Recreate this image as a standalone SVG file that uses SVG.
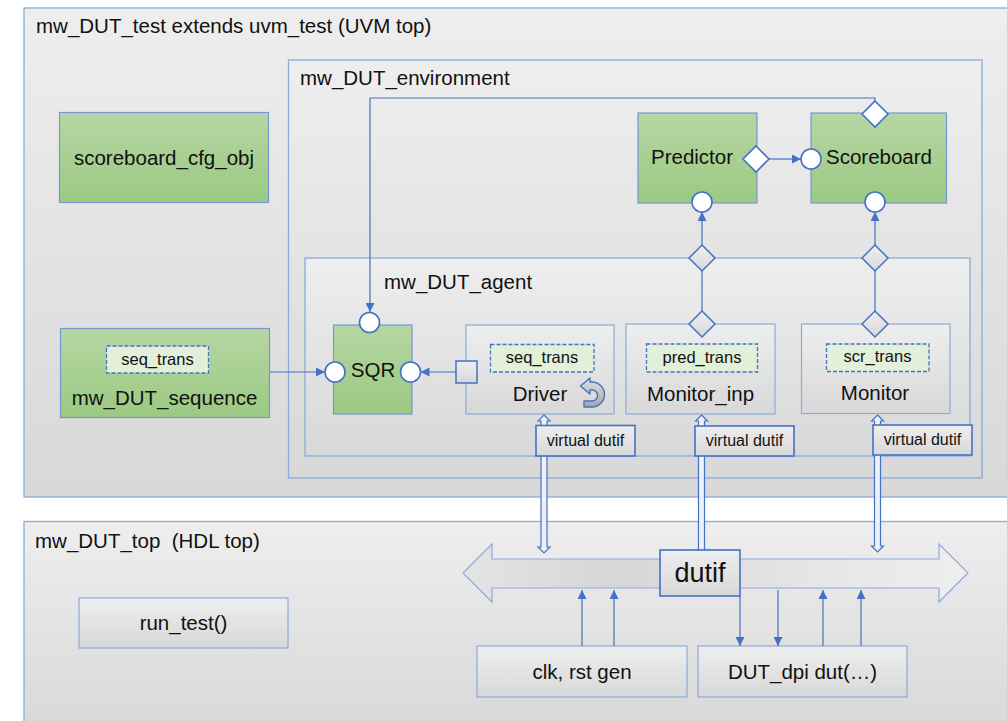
<svg xmlns="http://www.w3.org/2000/svg" width="1007" height="721" viewBox="0 0 1007 721">
  <defs>
    <linearGradient id="gGray" x1="0" y1="0" x2="0" y2="1">
      <stop offset="0" stop-color="#eeeeee"/>
      <stop offset="1" stop-color="#d8d8d8"/>
    </linearGradient>
    <linearGradient id="gGreen" x1="0" y1="0" x2="0" y2="1">
      <stop offset="0" stop-color="#b6d6a3"/>
      <stop offset="1" stop-color="#9bc982"/>
    </linearGradient>
    <linearGradient id="gBus" x1="0" y1="0" x2="1" y2="0">
      <stop offset="0" stop-color="#e4e4e4"/>
      <stop offset="0.3" stop-color="#d6d6d6"/>
      <stop offset="0.7" stop-color="#e6e6e6"/>
      <stop offset="1" stop-color="#eeeeee"/>
    </linearGradient>
    <linearGradient id="gIcon" x1="0" y1="0" x2="0" y2="1">
      <stop offset="0" stop-color="#e0e0e0"/>
      <stop offset="1" stop-color="#a6a6a6"/>
    </linearGradient>
    <marker id="arr" viewBox="0 0 10 10" refX="10" refY="5" markerWidth="9" markerHeight="9" markerUnits="userSpaceOnUse" orient="auto">
      <path d="M0,0 L10,5 L0,10 Z" fill="#4472c4"/>
    </marker>
    <style>
      .frame { fill: url(#gGray); stroke: #8eaadb; stroke-width: 1.3; }
      .green { fill: url(#gGreen); stroke: #7597d4; stroke-width: 1.2; }
      .sub { fill: url(#gGray); stroke: #8eaadb; stroke-width: 1.2; }
      .tag { fill: #e2efd9; stroke: #4472c4; stroke-width: 1.3; stroke-dasharray: 4 2; }
      .vif { fill: url(#gGray); stroke: #4472c4; stroke-width: 1.6; }
      .port { fill: #ffffff; stroke: #4472c4; stroke-width: 1.6; }
      .gport { fill: url(#gGray); stroke: #4472c4; stroke-width: 1.5; }
      .wire { fill: none; stroke: #4472c4; stroke-width: 1.2; }
      .pipe { fill: #eef1f7; stroke: #4472c4; stroke-width: 1.2; }
      text { font-family: "Liberation Sans", Arial, sans-serif; fill: #111111; }
      .t20 { font-size: 20.5px; }
      .t16 { font-size: 16.5px; }
      .t15 { font-size: 16px; }
      .mid { text-anchor: middle; }
    </style>
  </defs>

  <rect x="0" y="0" width="1007" height="721" fill="#ffffff"/>

  <!-- UVM test container -->
  <g id="mw_DUT_test">
    <rect class="frame" x="24" y="8" width="990" height="489"/>
    <text class="t20" x="36" y="33">mw_DUT_test extends uvm_test (UVM top)</text>
  </g>

  <!-- HDL top container -->
  <g id="mw_DUT_top">
    <rect class="frame" x="24" y="521.5" width="990" height="210"/>
    <text class="t20" x="35" y="548" xml:space="preserve">mw_DUT_top  (HDL top)</text>
  </g>

  <g id="scoreboard_cfg_obj">
    <rect class="green" x="59.5" y="112.5" width="209" height="90"/>
    <text class="t20 mid" x="164" y="165">scoreboard_cfg_obj</text>
  </g>

  <g id="mw_DUT_sequence">
    <rect class="green" x="60.5" y="328.5" width="209" height="89"/>
    <rect class="tag" x="106.5" y="346" width="102" height="27"/>
    <text class="t16 mid" x="157.5" y="365">seq_trans</text>
    <text class="t20 mid" x="164.5" y="405">mw_DUT_sequence</text>
  </g>

  <g id="mw_DUT_environment">
    <rect class="frame" x="288.5" y="60" width="693.5" height="418"/>
    <text class="t20" x="300" y="85">mw_DUT_environment</text>
  </g>

  <g id="mw_DUT_agent">
    <rect class="frame" x="305" y="258" width="665" height="198"/>
    <text class="t20" x="384" y="289">mw_DUT_agent</text>
  </g>

  <g id="predictor">
    <rect class="green" x="638" y="113" width="119" height="90"/>
    <text class="t20 mid" x="692" y="164">Predictor</text>
  </g>

  <g id="scoreboard">
    <rect class="green" x="811" y="113" width="135.5" height="90"/>
    <text class="t20 mid" x="879" y="164">Scoreboard</text>
  </g>

  <g id="sqr">
    <rect class="green" x="333.5" y="325" width="78.5" height="89"/>
    <text class="t20 mid" x="373" y="377">SQR</text>
  </g>

  <g id="driver">
    <rect class="sub" x="466" y="325" width="148" height="89"/>
    <rect class="tag" x="490.5" y="344.5" width="103.5" height="27.5"/>
    <text class="t16 mid" x="542" y="363">seq_trans</text>
    <text class="t20 mid" x="540" y="401">Driver</text>
    <!-- run loop icon -->
    <path d="M584,407 L592,407 A12.5,12.5 0 0 0 592,382 L590,382 L590,378 L580.5,386 L590,394 L590,390 L592,390 A5.5,5.5 0 0 1 592,401 L584,401 Z" fill="url(#gIcon)" stroke="#4472c4" stroke-width="1.4" stroke-linejoin="round"/>
  </g>

  <g id="monitor_inp">
    <rect class="sub" x="626" y="324" width="149" height="90"/>
    <rect class="tag" x="646.5" y="344" width="111" height="28"/>
    <text class="t16 mid" x="702" y="363">pred_trans</text>
    <text class="t20 mid" x="700.5" y="401">Monitor_inp</text>
  </g>

  <g id="monitor">
    <rect class="sub" x="801.5" y="324" width="148.5" height="89.5"/>
    <rect class="tag" x="826.5" y="344" width="102.5" height="27.5"/>
    <text class="t16 mid" x="877.5" y="362">scr_trans</text>
    <text class="t20 mid" x="875" y="400">Monitor</text>
  </g>

  <g id="run_test">
    <rect class="sub" x="79" y="598" width="209" height="50"/>
    <text class="t20 mid" x="183.5" y="630">run_test()</text>
  </g>

  <g id="clk_rst_gen">
    <rect class="sub" x="477" y="646" width="210" height="51"/>
    <text class="t20 mid" x="582" y="679">clk, rst gen</text>
  </g>

  <g id="dut_dpi">
    <rect class="sub" x="698" y="646" width="209" height="51"/>
    <text class="t20 mid" x="802.5" y="679">DUT_dpi dut(…)</text>
  </g>

  <!-- interface bus -->
  <g id="dutif_bus">
    <polygon points="463,573 492,544 492,559 939,559 939,544 968,573 939,602 939,588 492,588 492,602" fill="url(#gBus)" stroke="#8eaadb" stroke-width="1.2"/>
  </g>

  <g id="connectors">
    <!-- virtual interface pipes -->
    <polygon class="pipe" points="544,415 550,421 547,421 547,547 550,547 544,553 538,547 541,547 541,421 538,421"/>
    <polygon class="pipe" points="701.5,415 707.5,421 704.5,421 704.5,550 707.5,550 701.5,556 695.5,550 698.5,550 698.5,421 695.5,421"/>
    <polygon class="pipe" points="877.5,415 883.5,421 880.5,421 880.5,546 883.5,546 877.5,552 871.5,546 874.5,546 874.5,421 871.5,421"/>

    <!-- sequence to sequencer -->
    <line class="wire" x1="270" y1="372" x2="325" y2="372" marker-end="url(#arr)"/>
    <!-- driver seq_item_port to sequencer export -->
    <line class="wire" x1="456" y1="372" x2="420.5" y2="372" marker-end="url(#arr)"/>
    <!-- scoreboard feedback to sequencer -->
    <polyline class="wire" points="875,101 875,98 370,98 370,312" marker-end="url(#arr)"/>
    <!-- predictor to scoreboard -->
    <line class="wire" x1="769" y1="159" x2="801" y2="159" marker-end="url(#arr)"/>
    <!-- monitor analysis paths -->
    <line class="wire" x1="702" y1="311" x2="702" y2="271"/>
    <line class="wire" x1="702" y1="245" x2="702" y2="212" marker-end="url(#arr)"/>
    <line class="wire" x1="875" y1="311" x2="875" y2="271"/>
    <line class="wire" x1="875" y1="245" x2="875" y2="212" marker-end="url(#arr)"/>
    <!-- clock / reset into the bus -->
    <line class="wire" x1="582" y1="646" x2="582" y2="590" marker-end="url(#arr)"/>
    <line class="wire" x1="614" y1="646" x2="614" y2="590" marker-end="url(#arr)"/>
    <!-- DUT pins -->
    <line class="wire" x1="740" y1="596" x2="740" y2="646" marker-end="url(#arr)"/>
    <line class="wire" x1="778" y1="590" x2="778" y2="646" marker-end="url(#arr)"/>
    <line class="wire" x1="823" y1="646" x2="823" y2="590" marker-end="url(#arr)"/>
    <line class="wire" x1="861" y1="646" x2="861" y2="590" marker-end="url(#arr)"/>
  </g>

  <!-- ports drawn over the wires -->
  <g id="ports">
    <circle class="port" cx="369.5" cy="322.5" r="10"/>
    <circle class="port" cx="335" cy="372" r="10"/>
    <circle class="port" cx="410.5" cy="372" r="10"/>
    <rect class="gport" x="456" y="361" width="21" height="22"/>
    <polygon class="port" points="756,146 769,159 756,172 743,159"/>
    <circle class="port" cx="811" cy="159" r="10"/>
    <polygon class="port" points="875,101 888,114 875,127 862,114"/>
    <circle class="port" cx="702" cy="202" r="10"/>
    <circle class="port" cx="875" cy="202" r="10"/>
    <polygon class="gport" points="702,245 715,258 702,271 689,258"/>
    <polygon class="gport" points="875,245 888,258 875,271 862,258"/>
    <polygon class="gport" points="702,311 715,324 702,337 689,324"/>
    <polygon class="gport" points="875,311 888,324 875,337 862,324"/>
  </g>

  <g id="virtual_dutif">
    <rect class="vif" x="536" y="425.5" width="99" height="30.5"/>
    <text class="t15 mid" x="585.5" y="446">virtual dutif</text>
    <rect class="vif" x="695" y="426" width="99" height="30"/>
    <text class="t15 mid" x="744.5" y="446">virtual dutif</text>
    <rect class="vif" x="873" y="425" width="99" height="30"/>
    <text class="t15 mid" x="922.5" y="445">virtual dutif</text>
  </g>

  <g id="dutif">
    <rect class="vif" x="660" y="550" width="80" height="46"/>
    <text class="mid" x="700" y="582" font-size="27">dutif</text>
  </g>
</svg>
